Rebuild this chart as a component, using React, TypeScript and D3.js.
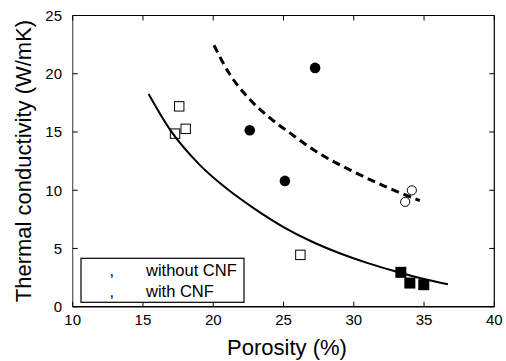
import React from "react";
import * as d3 from "d3";

const xTicks = [10, 15, 20, 25, 30, 35, 40];
const yTicks = [0, 5, 10, 15, 20, 25];

// open squares
const openSquares: [number, number][] = [
  [17.28, 14.86],
  [17.58, 17.2],
  [18.04, 15.27],
  [26.2, 4.45],
];
// filled squares
const filledSquares: [number, number][] = [
  [33.35, 2.95],
  [33.99, 2.03],
  [34.98, 1.89],
];
// filled circles
const filledCircles: [number, number][] = [
  [22.6, 15.15],
  [25.1, 10.8],
  [27.25, 20.5],
];
// open circles
const openCircles: [number, number][] = [
  [33.66, 9.0],
  [34.13, 9.99],
];
// fitted curve without CNF (solid)
const fitWithout: [number, number][] = [
  [15.4, 18.27],
  [17, 15.07],
  [19, 12.22],
  [21, 10.1],
  [23, 8.36],
  [25, 6.84],
  [27, 5.6],
  [29, 4.59],
  [31, 3.74],
  [33, 3.02],
  [35, 2.38],
  [36.7, 1.92],
];
// fitted curve with CNF (dashed)
const fitWith: [number, number][] = [
  [20.05, 22.45],
  [21.19, 19.93],
  [22.61, 17.78],
  [24.03, 16.21],
  [25.45, 14.92],
  [27.35, 13.3],
  [29.72, 11.75],
  [32.09, 10.4],
  [34.7, 9.1],
];
const legendLabels = ["without CNF", "with CNF"];

const W = 506;
const H = 361;
const L = 72.7;
const R = 494.3;
const T = 15.5;
const B = 306.7;
const FONT = "'Liberation Sans', Arial, sans-serif";

export default function App() {
  const x = d3.scaleLinear().domain([10, 40]).range([L, R]);
  const y = d3.scaleLinear().domain([0, 25]).range([B, T]);
  const line = d3
    .line<[number, number]>()
    .x((d) => x(d[0]))
    .y((d) => y(d[1]))
    .curve(d3.curveMonotoneX);

  const tl = 5;
  return (
    <svg
      width={W}
      height={H}
      style={{ position: "fixed", left: 0, top: 0, background: "#fff" }}
      fontFamily={FONT}
    >
      <rect x={0} y={0} width={W} height={H} fill="#fff" />
      {/* frame */}
      <line x1={L} x2={R} y1={T} y2={T} stroke="#000" strokeWidth={1.2} />
      <line x1={L} x2={R} y1={B} y2={B} stroke="#000" strokeWidth={1.5} />
      <line x1={R} x2={R} y1={T} y2={B} stroke="#000" strokeWidth={1.2} />
      <line x1={L} x2={L} y1={T} y2={B} stroke="#555" strokeWidth={1.2} />
      {/* x ticks */}
      {xTicks.map((t) => (
        <g key={"x" + t}>
          <line x1={x(t)} x2={x(t)} y1={B} y2={B - tl} stroke="#000" />
          <line x1={x(t)} x2={x(t)} y1={T} y2={T + tl} stroke="#000" />
          <text x={x(t)} y={325} textAnchor="middle" fontSize={15} fill="#000">
            {t}
          </text>
        </g>
      ))}
      {yTicks.map((t) => (
        <g key={"y" + t}>
          <line x1={L} x2={L + tl} y1={y(t)} y2={y(t)} stroke="#000" />
          <line x1={R} x2={R - tl} y1={y(t)} y2={y(t)} stroke="#000" />
          <text x={62} y={y(t)} dy="0.36em" textAnchor="end" fontSize={15} fill="#000">
            {t}
          </text>
        </g>
      ))}
      {/* axis titles */}
      <text x={287} y={355} textAnchor="middle" fontSize={22} fill="#000">
        Porosity (%)
      </text>
      <text
        transform={`translate(31,161) rotate(-90)`}
        textAnchor="middle"
        fontSize={22}
        fill="#000"
      >
        Thermal conductivity (W/mK)
      </text>
      {/* curves */}
      <path d={line(fitWithout) || ""} fill="none" stroke="#000" strokeWidth={2} />
      <path
        d={line(fitWith) || ""}
        fill="none"
        stroke="#000"
        strokeWidth={3}
        strokeDasharray="8,5"
      />
      {/* markers */}
      {openSquares.map((d, i) => (
        <rect
          key={"os" + i}
          x={x(d[0]) - 4.7}
          y={y(d[1]) - 4.7}
          width={9.4}
          height={9.4}
          fill="none"
          stroke="#000"
          strokeWidth={1}
        />
      ))}
      {filledSquares.map((d, i) => (
        <rect
          key={"fs" + i}
          x={x(d[0]) - 5.5}
          y={y(d[1]) - 5.5}
          width={11}
          height={11}
          fill="#000"
        />
      ))}
      {filledCircles.map((d, i) => (
        <circle key={"fc" + i} cx={x(d[0])} cy={y(d[1])} r={5.3} fill="#000" />
      ))}
      {openCircles.map((d, i) => (
        <circle
          key={"oc" + i}
          cx={x(d[0])}
          cy={y(d[1])}
          r={4.6}
          fill="#fff"
          stroke="#000"
          strokeWidth={1}
        />
      ))}
      {/* legend */}
      <rect x={81} y={258.3} width={163} height={44} fill="#fff" stroke="#000" strokeWidth={1.2} />
      {legendLabels.map((lab, i) => (
        <g key={lab}>
          <text x={109.5} y={276 + i * 20.7} fontSize={16.5} fill="#000">
            ,
          </text>
          <text x={146} y={276 + i * 20.7} fontSize={16.5} fill="#000">
            {lab}
          </text>
        </g>
      ))}
    </svg>
  );
}
